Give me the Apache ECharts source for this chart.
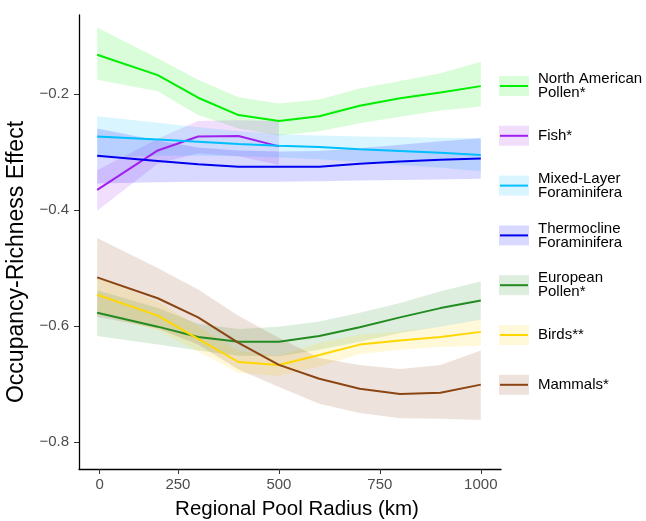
<!DOCTYPE html>
<html>
<head>
<meta charset="utf-8">
<script src="https://cdn.jsdelivr.net/npm/echarts@6/dist/echarts.min.js"></script>
<style>
  html, body { margin: 0; padding: 0; background: #fff; }
  #chart { width: 646px; height: 521px; }
</style>
</head>
<body>
<div id="chart"></div>
<script>
  // * 数据
  var radius = [50, 200, 300, 400, 500, 600, 700, 800, 900, 1000]
  var fishRadius = [50, 200, 300, 400, 500]

  var xTickValues = [56, 250, 500, 750, 1000]
  var xTickLabels = ['0', '250', '500', '750', '1000']
  var yTickValues = [-0.8, -0.6, -0.4, -0.2]

  var naPollenFit = [-0.132, -0.167, -0.206, -0.236, -0.246, -0.238, -0.220, -0.207, -0.197, -0.186]
  var naPollenLo = [-0.175, -0.195, -0.236, -0.259, -0.271, -0.264, -0.250, -0.239, -0.228, -0.221]
  var naPollenHi = [-0.085, -0.138, -0.175, -0.205, -0.216, -0.209, -0.190, -0.177, -0.164, -0.144]

  var fishFit = [-0.365, -0.297, -0.273, -0.272, -0.290]
  var fishLo = [-0.401, -0.320, -0.302, -0.307, -0.322]
  var fishHi = [-0.331, -0.277, -0.246, -0.245, -0.246]

  var mixedFit = [-0.273, -0.278, -0.282, -0.286, -0.289, -0.291, -0.295, -0.298, -0.301, -0.305]
  var mixedLo = [-0.309, -0.306, -0.306, -0.307, -0.309, -0.312, -0.317, -0.322, -0.327, -0.333]
  var mixedHi = [-0.238, -0.249, -0.257, -0.264, -0.269, -0.271, -0.273, -0.274, -0.275, -0.276]

  var thermoFit = [-0.306, -0.315, -0.321, -0.325, -0.325, -0.325, -0.320, -0.316, -0.313, -0.311]
  var thermoLo = [-0.354, -0.352, -0.351, -0.351, -0.351, -0.350, -0.349, -0.348, -0.347, -0.346]
  var thermoHi = [-0.259, -0.280, -0.292, -0.297, -0.299, -0.298, -0.293, -0.287, -0.281, -0.276]

  var euPollenFit = [-0.577, -0.601, -0.619, -0.627, -0.627, -0.617, -0.602, -0.585, -0.569, -0.556]
  var euPollenLo = [-0.617, -0.632, -0.642, -0.651, -0.652, -0.641, -0.627, -0.612, -0.601, -0.589]
  var euPollenHi = [-0.538, -0.569, -0.596, -0.605, -0.601, -0.592, -0.577, -0.560, -0.540, -0.523]

  var birdsFit = [-0.546, -0.582, -0.622, -0.662, -0.667, -0.650, -0.632, -0.625, -0.619, -0.610]
  var birdsLo = [-0.578, -0.607, -0.644, -0.681, -0.686, -0.670, -0.648, -0.641, -0.636, -0.634]
  var birdsHi = [-0.514, -0.558, -0.600, -0.643, -0.651, -0.629, -0.615, -0.609, -0.601, -0.589]

  var mammalsFit = [-0.516, -0.552, -0.585, -0.629, -0.667, -0.691, -0.708, -0.717, -0.715, -0.701]
  var mammalsLo = [-0.584, -0.604, -0.632, -0.675, -0.705, -0.734, -0.750, -0.759, -0.760, -0.762]
  var mammalsHi = [-0.448, -0.500, -0.537, -0.582, -0.620, -0.655, -0.667, -0.674, -0.667, -0.642]

  var groups = [
    { name: 'North American\nPollen*', x: radius, fit: naPollenFit, lo: naPollenLo, hi: naPollenHi, color: '#00ee00', fill: 'rgba(0,238,0,0.15)' },
    { name: 'Fish*', x: fishRadius, fit: fishFit, lo: fishLo, hi: fishHi, color: '#a020f0', fill: 'rgba(160,32,240,0.15)' },
    { name: 'Mixed-Layer\nForaminifera', x: radius, fit: mixedFit, lo: mixedLo, hi: mixedHi, color: '#00bfff', fill: 'rgba(0,191,255,0.15)' },
    { name: 'Thermocline\nForaminifera', x: radius, fit: thermoFit, lo: thermoLo, hi: thermoHi, color: '#0000ee', fill: 'rgba(0,0,255,0.15)' },
    { name: 'European\nPollen*', x: radius, fit: euPollenFit, lo: euPollenLo, hi: euPollenHi, color: '#228b22', fill: 'rgba(34,139,34,0.15)' },
    { name: 'Birds**', x: radius, fit: birdsFit, lo: birdsLo, hi: birdsHi, color: '#ffd700', fill: 'rgba(255,215,0,0.15)' },
    { name: 'Mammals*', x: radius, fit: mammalsFit, lo: mammalsLo, hi: mammalsHi, color: '#8b4513', fill: 'rgba(139,69,19,0.15)' }
  ]

  // 置信带：用 custom 多边形，坐标走坐标轴换算
  function bandSeries (g) {
    return {
      type: 'custom',
      name: g.name + ' band',
      silent: true,
      z: 1,
      data: [[g.x[0], g.hi[0]]],
      renderItem: function (params, api) {
        var pts = []
        for (var i = 0; i < g.x.length; i++) pts.push(api.coord([g.x[i], g.hi[i]]))
        for (var j = g.x.length - 1; j >= 0; j--) pts.push(api.coord([g.x[j], g.lo[j]]))
        return { type: 'polygon', shape: { points: pts }, style: { fill: g.fill } }
      }
    }
  }

  function lineSeries (g) {
    return {
      type: 'line',
      name: g.name,
      z: 3,
      showSymbol: false,
      lineStyle: { color: g.color, width: 2 },
      itemStyle: { color: g.color },
      data: g.x.map(function (x, i) { return [x, g.fit[i]] })
    }
  }

  var series = []
  groups.forEach(function (g) { series.push(bandSeries(g)) })
  groups.forEach(function (g) { series.push(lineSeries(g)) })

  // 图例（手工画：浅色方块 + 中线 + 文字）
  var legendTop = 86
  var legendStep = 49.8
  var legendGraphic = []
  groups.forEach(function (g, i) {
    var cy = legendTop + i * legendStep
    legendGraphic.push({ type: 'rect', shape: { x: 499, y: cy - 10, width: 30, height: 20 }, style: { fill: g.fill } })
    legendGraphic.push({ type: 'line', shape: { x1: 500, y1: cy, x2: 528, y2: cy }, style: { stroke: g.color, lineWidth: 2 } })
    legendGraphic.push({
      type: 'text',
      style: { text: g.name, x: 538, y: cy, fontSize: 15, lineHeight: 14, verticalAlign: 'middle', fill: '#000', fontFamily: 'Liberation Sans' }
    })
  })

  var option = {
    animation: false,
    backgroundColor: '#fff',
    textStyle: { fontFamily: 'Liberation Sans, Arial, sans-serif' },
    grid: { left: 79, right: 145, top: 15, bottom: 52, outerBoundsMode: 'none' },
    xAxis: {
      type: 'value',
      min: 5,
      max: 1050,
      name: 'Regional Pool Radius (km)',
      nameLocation: 'middle',
      nameGap: 30,
      nameTextStyle: { fontSize: 20.5, color: '#000', padding: [0, 0, 0, 14] },
      axisLine: { lineStyle: { color: '#000', width: 1.3 } },
      axisTick: { length: 5, customValues: xTickValues, lineStyle: { color: '#333' } },
      axisLabel: {
        customValues: xTickValues,
        margin: 8,
        fontSize: 15,
        color: '#4d4d4d',
        formatter: function (v) { return xTickLabels[xTickValues.indexOf(v)] }
      },
      splitLine: { show: false }
    },
    yAxis: {
      type: 'value',
      min: -0.8466,
      max: -0.0633,
      name: 'Occupancy-Richness Effect',
      nameLocation: 'middle',
      nameGap: 37,
      nameTextStyle: { fontSize: 23, color: '#000', padding: [0, 40, 0, 0] },
      axisLine: { show: true, lineStyle: { color: '#000', width: 1.3 } },
      axisTick: { show: true, length: 5, customValues: yTickValues, lineStyle: { color: '#333' } },
      axisLabel: {
        customValues: yTickValues,
        margin: 10,
        fontSize: 15,
        color: '#4d4d4d',
        formatter: function (v) { return v.toFixed(1).replace('-', '\u2212') }
      },
      splitLine: { show: false }
    },
    graphic: legendGraphic,
    series: series
  }

  var chart = echarts.init(document.getElementById('chart'))
  chart.setOption(option)
</script>
</body>
</html>
